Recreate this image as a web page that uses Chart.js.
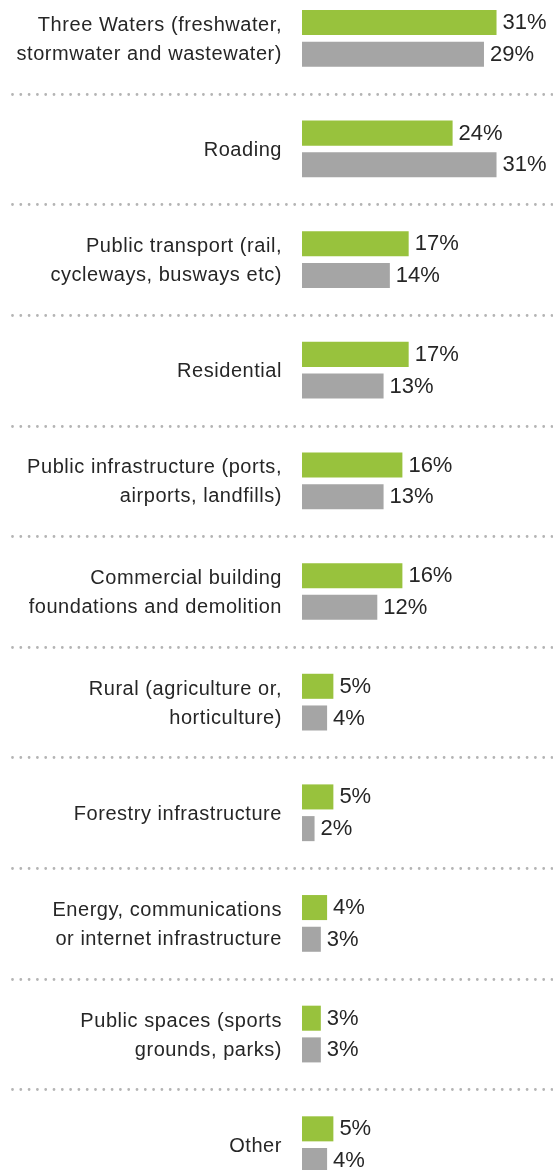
<!DOCTYPE html>
<html>
<head>
<meta charset="utf-8">
<title>Infrastructure work by sector</title>
<script src="https://cdn.jsdelivr.net/npm/chart.js@4/dist/chart.umd.min.js"></script>
<style>
    html, body { margin: 0; padding: 0; background: #fff; overflow: hidden; }
    #wrap { position: relative; width: 553px; height: 1170px; overflow: hidden; }
    #barChart { position: absolute; left: 0; top: -17px; }
</style>
</head>
<body>
<div id="wrap">
    <canvas id="barChart" width="553" height="1217"></canvas>
</div>
<script>
var categories = [
    ["Three Waters (freshwater,", "stormwater and wastewater)"],
    "Roading",
    ["Public transport (rail,", "cycleways, busways etc)"],
    "Residential",
    ["Public infrastructure (ports,", "airports, landfills)"],
    ["Commercial building", "foundations and demolition"],
    ["Rural (agriculture or,", "horticulture)"],
    "Forestry infrastructure",
    ["Energy, communications", "or internet infrastructure"],
    ["Public spaces (sports", "grounds, parks)"],
    "Other"
];
var greenValues = [31, 24, 17, 17, 16, 16, 5, 5, 4, 3, 5];
var greyValues = [29, 31, 14, 13, 13, 12, 4, 2, 3, 3, 4];

var textColor = '#262626';
var fontFamily = '"Liberation Sans", Arial, Helvetica, sans-serif';

// slightly looser tracking for the category labels
var tracking = {
    id: 'tracking',
    beforeDraw: function (chart) {
        chart.ctx.letterSpacing = '0.55px';
    }
};

// dotted rule between each group, running under the labels too
var separators = {
    id: 'separators',
    beforeDatasetsDraw: function (chart) {
        var ctx = chart.ctx;
        var y = chart.scales.y;
        ctx.save();
        ctx.strokeStyle = '#b4b4b4';
        ctx.lineWidth = 2.8;
        ctx.lineCap = 'round';
        ctx.setLineDash([0, 8.3]);
        for (var i = 0; i < categories.length - 1; ++i) {
            var py = Math.round((y.getPixelForTick(i) + y.getPixelForTick(i + 1)) / 2) + 0.5;
            ctx.beginPath();
            ctx.moveTo(12.5, py);
            ctx.lineTo(chart.width, py);
            ctx.stroke();
        }
        ctx.restore();
    }
};

// percentage written just past the end of each bar
var valueLabels = {
    id: 'valueLabels',
    afterDatasetsDraw: function (chart) {
        var ctx = chart.ctx;
        ctx.save();
        ctx.letterSpacing = '0px';
        ctx.font = '22px ' + fontFamily;
        ctx.fillStyle = textColor;
        ctx.textAlign = 'left';
        ctx.textBaseline = 'middle';
        chart.data.datasets.forEach(function (ds, d) {
            chart.getDatasetMeta(d).data.forEach(function (bar, i) {
                ctx.fillText(ds.data[i] + '%', bar.x + 6, bar.y + 0.5);
            });
        });
        ctx.restore();
    }
};

var barCanvas = document.getElementById('barChart').getContext('2d');
var barChart = new Chart(barCanvas, {
    type: 'bar',
    data: {
        labels: categories,
        datasets: [{
            data: greenValues,
            backgroundColor: '#98c23d',
            categoryPercentage: 0.573,
            barPercentage: 0.79
        }, {
            data: greyValues,
            backgroundColor: '#a5a5a5',
            categoryPercentage: 0.573,
            barPercentage: 0.79
        }]
    },
    options: {
        indexAxis: 'y',
        responsive: false,
        animation: false,
        layout: { padding: 0 },
        plugins: {
            legend: { display: false },
            tooltip: { enabled: false }
        },
        scales: {
            x: {
                display: false,
                min: 0,
                max: 40
            },
            y: {
                grid: { display: false, drawTicks: false },
                border: { display: false },
                afterFit: function (scale) {
                    // fixed label column, and no extra room above/below for the labels
                    scale.width = 302;
                    scale.paddingTop = 0;
                    scale.paddingBottom = 0;
                },
                ticks: {
                    autoSkip: false,
                    padding: 20,
                    labelOffset: 1.5,
                    color: textColor,
                    font: { family: fontFamily, size: 20, lineHeight: 1.45 }
                }
            }
        }
    },
    plugins: [tracking, separators, valueLabels]
});
</script>
</body>
</html>
